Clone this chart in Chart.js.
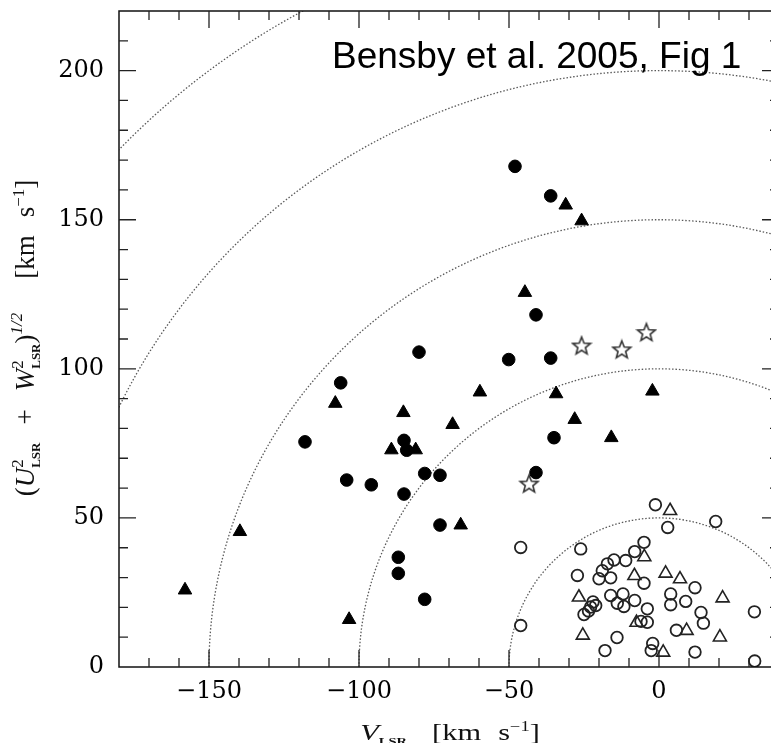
<!DOCTYPE html>
<html>
<head>
<meta charset="utf-8">
<script src="https://cdn.jsdelivr.net/npm/chart.js@4"></script>
<style>
  html, body { margin: 0; padding: 0; background: #fff; overflow: hidden; }
  #wrap { width: 790px; height: 743px; }
  #toomre { width: 790px; height: 743px; }
</style>
</head>
<body>
<div id="wrap"><canvas id="toomre" width="790" height="743"></canvas></div>
<script>
// thick disk (filled circles)
const thickCircleV = [-118.0, -106.1, -104.1, -95.9, -86.9, -86.9, -85.0, -84.1, -85.0, -80.0, -78.1,
  -78.1, -73.0, -73.0, -50.1, -48.0, -41.0, -41.0, -36.1, -36.1, -35.0];
const thickCircleW = [75.5, 95.3, 62.7, 61.1, 36.8, 31.4, 76.0, 72.7, 58.0, 105.6, 64.9,
  22.7, 64.3, 47.6, 103.1, 167.9, 118.1, 65.2, 158.0, 103.6, 76.9];

// filled triangles
const thickTriV = [-158.0, -139.7, -107.9, -103.3, -89.2, -85.2, -81.1, -68.8, -66.1, -59.7,
  -44.7, -34.3, -31.1, -28.1, -25.8, -15.9, -2.2];
const thickTriW = [25.8, 45.4, 88.4, 15.9, 72.8, 85.3, 72.8, 81.3, 47.6, 92.2,
  125.6, 91.6, 154.9, 83.0, 149.6, 76.9, 92.5];

// thin disk (open circles)
const thinCircleV = [-46.1, -46.1, -26.1, -27.2, -20.0, -16.1, -18.9, -17.2, -15.0, -11.1, -8.1,
  -5.0, -1.2, 2.9, 18.9, -25.0, -22.8, -21.1, -23.5, -22.0, -16.1, -13.9, -12.0, -11.7, -8.1,
  -5.0, -3.9, -3.9, -6.0, 3.9, 3.9, 8.9, 12.0, 14.0, 14.8, 5.8, -14.0, -18.0, -2.1, -2.6,
  12.0, 31.8, 31.9];
const thinCircleW = [40.1, 13.9, 39.6, 30.7, 29.6, 29.9, 32.3, 34.6, 35.9, 35.7, 38.7,
  41.8, 54.4, 46.8, 48.8, 17.6, 20.1, 20.6, 18.8, 21.8, 24.0, 21.4, 24.5, 20.3, 22.3,
  28.1, 19.5, 15.0, 15.3, 24.5, 20.9, 22.0, 26.6, 18.3, 14.7, 12.3, 9.9, 5.5, 7.9, 5.5,
  5.0, 18.5, 2.0];

// open triangles
const thinTriV = [-26.7, -25.4, -8.2, -4.9, 2.2, 7.0, 3.7, 21.2, 9.2, 20.3, 1.4, -7.5];
const thinTriW = [23.4, 10.6, 30.6, 36.9, 31.4, 29.5, 52.4, 23.1, 12.2, 10.0, 4.9, 14.9];

// open stars
const starV = [-43.3, -25.8, -12.4, -4.2];
const starW = [61.5, 107.8, 106.5, 112.3];

const speedCircles = [50, 100, 150, 200, 250];
const xTickValues = [-150, -100, -50, 0];
const yTickValues = [0, 50, 100, 150, 200];

const pts = (vs, ws) => vs.map((v, i) => ({ x: v, y: ws[i] }));
const fmt = v => v < 0 ? '\u2212' + Math.abs(v) : String(v);

// five point open star marker
const starImg = document.createElement('canvas');
starImg.width = 22; starImg.height = 22;
(function () {
  const c = starImg.getContext('2d');
  c.beginPath();
  for (let i = 0; i < 10; i++) {
    const r = i % 2 === 0 ? 9.3 : 4.0;
    const a = -Math.PI / 2 + i * Math.PI / 5;
    const px = 11 + r * Math.cos(a), py = 11.8 + r * Math.sin(a);
    i === 0 ? c.moveTo(px, py) : c.lineTo(px, py);
  }
  c.closePath();
  c.fillStyle = '#fff';
  c.fill();
  c.strokeStyle = '#333';
  c.lineWidth = 1.6;
  c.stroke();
})();

// draw a run of text pieces along +x from (x, y); returns width
function rich(ctx, parts, x, y, draw) {
  let cx = x;
  parts.forEach(p => {
    if (p.gap) { cx += p.gap; return; }
    if (p.sup !== undefined || p.sub !== undefined) {
      let w = 0;
      if (p.sup !== undefined) {
        ctx.font = p.supFont;
        if (draw) ctx.fillText(p.sup, cx, y - p.supUp);
        w = Math.max(w, ctx.measureText(p.sup).width);
      }
      if (p.sub !== undefined) {
        ctx.font = p.subFont;
        if (draw) ctx.fillText(p.sub, cx, y + p.subDown);
        w = Math.max(w, ctx.measureText(p.sub).width);
      }
      cx += w;
      return;
    }
    ctx.font = p.f;
    if (draw) ctx.fillText(p.t, cx, y);
    cx += ctx.measureText(p.t).width;
  });
  return cx - x;
}

const rm = '27px "Liberation Serif"';
const it = 'italic 27px "Liberation Serif"';
const smallRm = '17px "Liberation Serif"';
const lsr = 'bold 13px "Liberation Serif"';

const xTitle = [
  { t: 'V', f: 'italic 23px "Liberation Serif"' },
  { sub: 'LSR', subFont: 'bold 11px "Liberation Serif"', subDown: 5 },
  { gap: 19 },
  { t: '[km', f: '23px "Liberation Serif"' }, { gap: 13 }, { t: 's', f: '23px "Liberation Serif"' },
  { sup: '\u22121', supFont: '14px "Liberation Serif"', supUp: 9 },
  { t: ']', f: '23px "Liberation Serif"' }
];
const yTitle = [
  { t: '(', f: rm }, { t: 'U', f: it },
  { sup: '2', supFont: smallRm, supUp: 11, sub: 'LSR', subFont: lsr, subDown: 6 },
  { gap: 18 }, { t: '+', f: rm }, { gap: 18 },
  { t: 'W', f: it },
  { sup: '2', supFont: smallRm, supUp: 11, sub: 'LSR', subFont: lsr, subDown: 6 },
  { t: ')', f: rm },
  { sup: '1/2', supFont: 'italic 17px "Liberation Serif"', supUp: 12 },
  { gap: 34 },
  { t: '[km', f: rm }, { gap: 18 }, { t: 's', f: rm },
  { sup: '\u22121', supFont: smallRm, supUp: 10 },
  { t: ']', f: rm }
];

const framePlugin = {
  id: 'frame',
  beforeDatasetsDraw(chart) {
    const { ctx, chartArea: a, scales: { x, y } } = chart;
    ctx.save();
    ctx.beginPath();
    ctx.rect(a.left, a.top, a.right - a.left, a.bottom - a.top);
    ctx.clip();
    ctx.strokeStyle = '#5a5a5a';
    ctx.lineWidth = 1.3;
    ctx.setLineDash([1.5, 1.9]);
    const cx = x.getPixelForValue(0), cy = y.getPixelForValue(0);
    speedCircles.forEach(r => {
      const rx = x.getPixelForValue(r) - cx, ry = cy - y.getPixelForValue(r);
      ctx.beginPath();
      ctx.ellipse(cx, cy, rx, ry, 0, Math.PI, 2 * Math.PI);
      ctx.stroke();
    });
    ctx.restore();
  },
  afterDraw(chart) {
    const { ctx, chartArea: a, scales: { x, y } } = chart;
    ctx.save();
    ctx.strokeStyle = '#111';
    ctx.lineWidth = 1.5;
    ctx.strokeRect(a.left, a.top, a.right - a.left, a.bottom - a.top);

    // inward ticks on all four sides
    ctx.lineWidth = 1.3;
    ctx.strokeStyle = '#222';
    ctx.beginPath();
    for (let v = x.min + 10; v < x.max; v += 10) {
      const len = v % 50 === 0 ? 17 : 9;
      const px = x.getPixelForValue(v);
      ctx.moveTo(px, a.bottom); ctx.lineTo(px, a.bottom - len);
      ctx.moveTo(px, a.top); ctx.lineTo(px, a.top + len);
    }
    for (let w = y.min + 10; w < y.max; w += 10) {
      const len = w % 50 === 0 ? 17 : 9;
      const py = y.getPixelForValue(w);
      ctx.moveTo(a.left, py); ctx.lineTo(a.left + len, py);
      ctx.moveTo(a.right, py); ctx.lineTo(a.right - len, py);
    }
    ctx.stroke();

    // axis titles
    ctx.fillStyle = '#111';
    ctx.textBaseline = 'alphabetic';
    ctx.textAlign = 'left';
    ctx.save();
    ctx.translate(450, 740);
    ctx.scale(1.32, 1);
    const xw = rich(ctx, xTitle, 0, 0, false);
    rich(ctx, xTitle, -xw / 2, 0, true);
    ctx.restore();

    ctx.save();
    ctx.translate(34, 338);
    ctx.rotate(-Math.PI / 2);
    const yw = rich(ctx, yTitle, 0, 0, false);
    rich(ctx, yTitle, -yw / 2, 0, true);
    ctx.restore();

    // figure note
    ctx.fillStyle = '#000';
    ctx.font = '37px "Liberation Sans"';
    ctx.fillText('Bensby et al. 2005, Fig 1', 332, 68);
    ctx.restore();
  }
};

new Chart(document.getElementById('toomre'), {
  type: 'scatter',
  data: {
    datasets: [
      {
        label: 'thin disk',
        data: pts(thinCircleV, thinCircleW),
        pointStyle: 'circle', pointRadius: 5.8,
        backgroundColor: 'rgba(0,0,0,0)', borderColor: '#222', borderWidth: 1.8
      },
      {
        label: 'thin disk (triangles)',
        data: pts(thinTriV, thinTriW),
        pointStyle: 'triangle', pointRadius: 7.5,
        backgroundColor: 'rgba(0,0,0,0)', borderColor: '#222', borderWidth: 1.6
      },
      {
        label: 'thick disk',
        data: pts(thickCircleV, thickCircleW),
        pointStyle: 'circle', pointRadius: 6.3,
        backgroundColor: '#000', borderColor: '#000', borderWidth: 1
      },
      {
        label: 'thick disk (triangles)',
        data: pts(thickTriV, thickTriW),
        pointStyle: 'triangle', pointRadius: 7.8,
        backgroundColor: '#000', borderColor: '#000', borderWidth: 1
      },
      {
        label: 'stars',
        data: pts(starV, starW),
        pointStyle: starImg, pointRadius: 10
      }
    ]
  },
  options: {
    responsive: false,
    animation: false,
    events: [],
    layout: { padding: { left: 0, right: 2, top: 9, bottom: 0 } },
    plugins: { legend: { display: false }, tooltip: { enabled: false } },
    scales: {
      x: {
        type: 'linear', min: -180, max: 40,
        grid: { display: false, drawTicks: false },
        border: { display: false },
        afterBuildTicks: s => { s.ticks = xTickValues.map(v => ({ value: v })); },
        afterFit: s => { s.height = 76; s.paddingLeft = 0; s.paddingRight = 0; },
        ticks: {
          font: { family: 'DejaVu Serif', size: 24 }, color: '#000',
          padding: 10, maxRotation: 0, autoSkip: false, callback: fmt
        }
      },
      y: {
        type: 'linear', min: 0, max: 220,
        grid: { display: false, drawTicks: false },
        border: { display: false },
        afterBuildTicks: s => { s.ticks = yTickValues.map(v => ({ value: v })); },
        afterFit: s => { s.width = 119; s.paddingTop = 0; s.paddingBottom = 0; },
        ticks: {
          font: { family: 'DejaVu Serif', size: 24 }, color: '#000',
          padding: 15, autoSkip: false, callback: fmt
        }
      }
    }
  },
  plugins: [framePlugin]
});
</script>
</body>
</html>
